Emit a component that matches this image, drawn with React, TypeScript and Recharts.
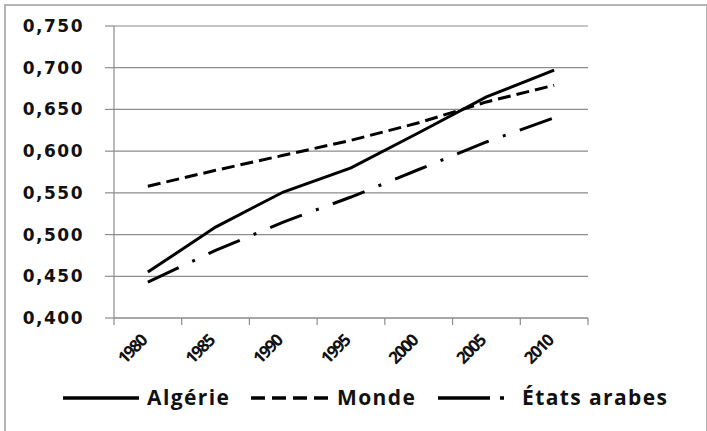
import React from 'react';
import { LineChart, Line, XAxis, YAxis, CartesianGrid } from 'recharts';

const years = ['1980', '1985', '1990', '1995', '2000', '2005', '2010'];
const algerie = [0.455, 0.509, 0.551, 0.580, 0.622, 0.665, 0.697];
const monde = [0.558, 0.577, 0.595, 0.613, 0.634, 0.659, 0.679];
const arabes = [0.443, 0.481, 0.515, 0.545, 0.578, 0.611, 0.640];
const yTicks = [0.4, 0.45, 0.5, 0.55, 0.6, 0.65, 0.7, 0.75];

// each year sits in the middle of its band, ticks mark the band edges
const data = years.map((year, i) => ({
  x: i + 0.5,
  year,
  algerie: algerie[i],
  monde: monde[i],
  arabes: arabes[i],
}));

const xTicks: number[] = [];
for (let i = 0; i <= years.length * 2; i++) xTicks.push(i / 2);

const GRID = '#8c8c8c';

function XTick(props: any) {
  const { x, y, payload } = props;
  const v = payload.value;
  if (Number.isInteger(v)) {
    return <line x1={x} y1={y} x2={x} y2={y + 7} stroke={GRID} strokeWidth={1.2} />;
  }
  const label = years[Math.floor(v)];
  const tx = x;
  const ty = y + 24;
  return (
    <text
      x={tx}
      y={ty}
      textAnchor="end"
      transform={`rotate(-45, ${tx}, ${ty})`}
      fontFamily="Open Sans"
      fontWeight={700}
      fontSize={17}
      letterSpacing={-1.6}
      fill="#111"
    >
      {label}
    </text>
  );
}

const legendLines = [
  { key: 'algerie', dash: undefined, left: 63, width: 76 },
  { key: 'monde', dash: '14 7', left: 251, width: 78 },
  { key: 'arabes-dash', dash: undefined, left: 438, width: 52 },
  { key: 'arabes-dot', dash: undefined, left: 500, width: 4 },
];

const legendTexts = [
  { name: 'Algérie', left: 147 },
  { name: 'Monde', left: 337 },
  { name: 'États arabes', left: 522 },
];

export default function App() {
  return (
    <div style={{ position: 'fixed', left: 0, top: 0, width: 707, height: 431, background: '#fff', overflow: 'hidden' }}>
      <div
        style={{
          position: 'absolute',
          left: 4,
          top: 4,
          width: 700,
          height: 440,
          border: '2px solid #b4b4b4',
        }}
      />
      <div style={{ position: 'absolute', left: 0, top: 0 }}>
        <LineChart width={707} height={431} data={data} margin={{ top: 26, right: 119, left: 0, bottom: 53 }}>
          <CartesianGrid horizontal vertical={false} stroke={GRID} strokeWidth={1.2} />
          <XAxis
            dataKey="x"
            type="number"
            domain={[0, 7]}
            ticks={xTicks}
            interval={0}
            height={60}
            tickSize={0}
            tickMargin={0}
            tickLine={false}
            axisLine={{ stroke: GRID, strokeWidth: 1.2 }}
            tick={<XTick />}
          />
          <YAxis
            domain={[0.4, 0.75]}
            ticks={yTicks}
            width={114}
            tickSize={9}
            tickMargin={21}
            tickLine={{ stroke: GRID, strokeWidth: 1.2 }}
            axisLine={{ stroke: GRID, strokeWidth: 1.2 }}
            tickFormatter={(v: number) => v.toFixed(3).replace('.', ',')}
            tick={{ fontFamily: 'DejaVu Sans', fontWeight: 700, fontSize: 17, fill: '#111', letterSpacing: 1.5 }}
          />
          <Line dataKey="algerie" stroke="#000" strokeWidth={3} dot={false} isAnimationActive={false} />
          <Line dataKey="monde" stroke="#000" strokeWidth={3} strokeDasharray="13 6" dot={false} isAnimationActive={false} />
          <Line dataKey="arabes" stroke="#000" strokeWidth={3} strokeDasharray="34 15 3 15" dot={false} isAnimationActive={false} />
        </LineChart>
      </div>
      {legendLines.map((item) => (
        <svg key={item.key} style={{ position: 'absolute', left: item.left, top: 391 }} width={item.width} height={14}>
          <line x1={0} y1={7} x2={item.width} y2={7} stroke="#000" strokeWidth={3.5} strokeDasharray={item.dash} />
        </svg>
      ))}
      {legendTexts.map((item) => (
        <div
          key={item.name}
          style={{
            position: 'absolute',
            left: item.left,
            top: 383,
            fontFamily: 'Open Sans',
            fontWeight: 700,
            fontSize: 21,
            letterSpacing: 1.4,
            lineHeight: '28px',
            color: '#111',
            whiteSpace: 'nowrap',
          }}
        >
          {item.name}
        </div>
      ))}
    </div>
  );
}
